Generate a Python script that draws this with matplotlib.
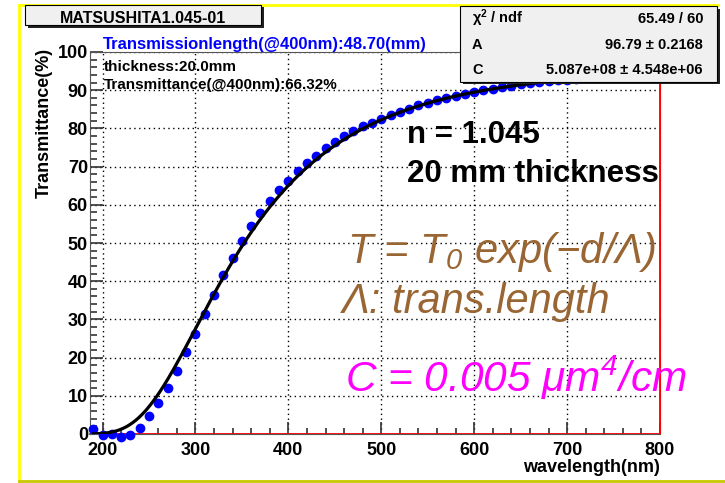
import numpy as np
import matplotlib
matplotlib.use("Agg")
import matplotlib.pyplot as plt
from matplotlib.patches import Rectangle
from matplotlib.lines import Line2D
from matplotlib.ticker import MultipleLocator

plt.rcParams['font.family'] = ['Liberation Sans', 'DejaVu Sans']
plt.rcParams['font.weight'] = 'bold'
plt.rcParams['axes.labelweight'] = 'bold'
plt.rcParams['mathtext.default'] = 'regular'

W, H = 725, 483

# measured transmittance, 10 nm steps
wavelength = list(range(190, 810, 10))
transmittance = [
    1.3, -0.2, 0.0, -0.8, -0.3, 1.5, 4.7, 8.0, 12.0, 16.4,
    21.5, 26.2, 31.5, 36.5, 41.5, 46.0, 50.4, 54.4, 57.9, 61.0,
    63.9, 66.3, 68.8, 70.9, 72.9, 74.8, 76.4, 77.9, 79.3, 80.5,
    81.5, 82.5, 83.4, 84.3, 85.2, 86.0, 86.7, 87.4, 88.0, 88.6,
    89.1, 89.6, 90.0, 90.4, 90.8, 91.2, 91.5, 91.8, 92.1, 92.3,
    92.6, 92.8, 93.0, 93.2, 93.4, 93.6, 93.8, 93.9, 94.0, 94.2,
    94.3, 94.4,
]

# fit result  T = A * exp(-d * C / lambda^4)
A_FIT = 96.79
C_FIT = 5.087e8
THICK = 20.0  # mm

stat_rows = [("χ$^2$ / ndf", "65.49 / 60"),
             ("A", "96.79 ± 0.2168"),
             ("C", "5.087e+08 ± 4.548e+06")]


def fx(px):
    return px / W


def fy(py):
    return 1 - py / H


def pave(x0, y0, x1, y1, sh=2.5):
    fig.add_artist(Rectangle((fx(x0 + sh), fy(y1 + sh)), (x1 - x0) / W, (y1 - y0) / H,
                             transform=fig.transFigure, facecolor='#222222',
                             edgecolor='none', zorder=5))
    fig.add_artist(Rectangle((fx(x0), fy(y1)), (x1 - x0) / W, (y1 - y0) / H,
                             transform=fig.transFigure, facecolor='#f0f0f0',
                             edgecolor='black', lw=0.8, zorder=6))


fig = plt.figure(figsize=(W / 100, H / 100), dpi=100)
ax = fig.add_axes([fx(90), fy(434), (660 - 90) / W, (434 - 52) / H])
ax.set_xlim(186.5, 800)
ax.set_ylim(0, 100)

ax.xaxis.set_major_locator(MultipleLocator(100))
ax.xaxis.set_minor_locator(MultipleLocator(20))
ax.yaxis.set_major_locator(MultipleLocator(10))
ax.yaxis.set_minor_locator(MultipleLocator(2))
ax.tick_params(which='both', direction='in', top=False, right=False,
               color='#333333', width=1.2, labelcolor='black', labelsize=13)
ax.tick_params(axis='x', which='major', length=8.5, pad=5.5)
ax.tick_params(axis='x', which='minor', length=4.3)
ax.tick_params(axis='y', which='major', length=9.5, pad=1.5)
ax.tick_params(axis='y', which='minor', length=5)

ax.grid(True, which='major', color='black', linestyle=(0, (1, 2.5)), linewidth=1.0)
for s in ['left', 'bottom', 'top']:
    ax.spines[s].set_color('#555555')
ax.spines['right'].set_color('red')

ax.axhline(0, color='red', lw=1.3, clip_on=False, zorder=2)
ax.axvline(800, color='red', lw=1.3, clip_on=False, zorder=2)

ax.plot(wavelength, transmittance, 'o', color='blue', ms=6, clip_on=False, zorder=3)
lam = np.linspace(190, 800, 400)
ax.plot(lam, A_FIT * np.exp(-THICK * C_FIT / lam ** 4), color='black', lw=2.3, zorder=4)

ax.set_xlabel('wavelength(nm)', fontsize=13, ha='right')
ax.xaxis.set_label_coords(1.0, -0.065)
ax.set_ylabel('Transmittance(%)', fontsize=13, ha='right')
ax.yaxis.set_label_coords(-0.066, 1.01)

# slide border
fig.add_artist(Line2D([fx(18.7), fx(18.7)], [fy(4.7), fy(481)], color='#ffff00', lw=2))
fig.add_artist(Line2D([fx(18.7), fx(718)], [fy(4.7), fy(4.7)], color='#ffff00', lw=2))
fig.add_artist(Line2D([fx(18.7), fx(725)], [fy(481), fy(481)], color='#c8c800', lw=2))

# title and stats boxes
pave(25, 5, 261, 25)
fig.text(fx(143), fy(22.7), 'MATSUSHITA1.045-01', fontsize=11.5, ha='center',
         va='baseline', zorder=7)
pave(460, 6, 717, 81.5)
for i, (name, val) in enumerate(stat_rows):
    yb = 23.3 + 25.3 * i
    fig.text(fx(472), fy(yb), name, fontsize=10.5, va='baseline', zorder=7)
    fig.text(fx(703), fy(yb), val, fontsize=10.5, ha='right', va='baseline', zorder=7)

fig.text(fx(103), fy(49.3), 'Transmissionlength(@400nm):48.70(mm)', color='blue',
         fontsize=12, va='baseline')
fig.text(fx(104), fy(71), 'thickness:20.0mm', fontsize=11, va='baseline')
fig.text(fx(104), fy(89.3), 'Transmittance(@400nm):66.32%', fontsize=11, va='baseline')

fig.text(fx(407), fy(143), 'n = 1.045', fontsize=22.5, va='baseline')
fig.text(fx(407), fy(181.6), '20 mm thickness', fontsize=22.5, va='baseline')

fig.text(fx(347), fy(263.3), 'T = T$_0$ exp(−d/Λ)', fontsize=30, style='italic',
         weight='normal', color='#996633', va='baseline')
fig.text(fx(342), fy(313.3), 'Λ: trans.length', fontsize=30, style='italic',
         weight='normal', color='#996633', va='baseline')
fig.text(fx(345), fy(391.7), 'C = 0.005 μm$^4$/cm', fontsize=30.5, style='italic',
         weight='normal', color='#ff00ff', va='baseline')

fig.savefig('out.png', dpi=100)
